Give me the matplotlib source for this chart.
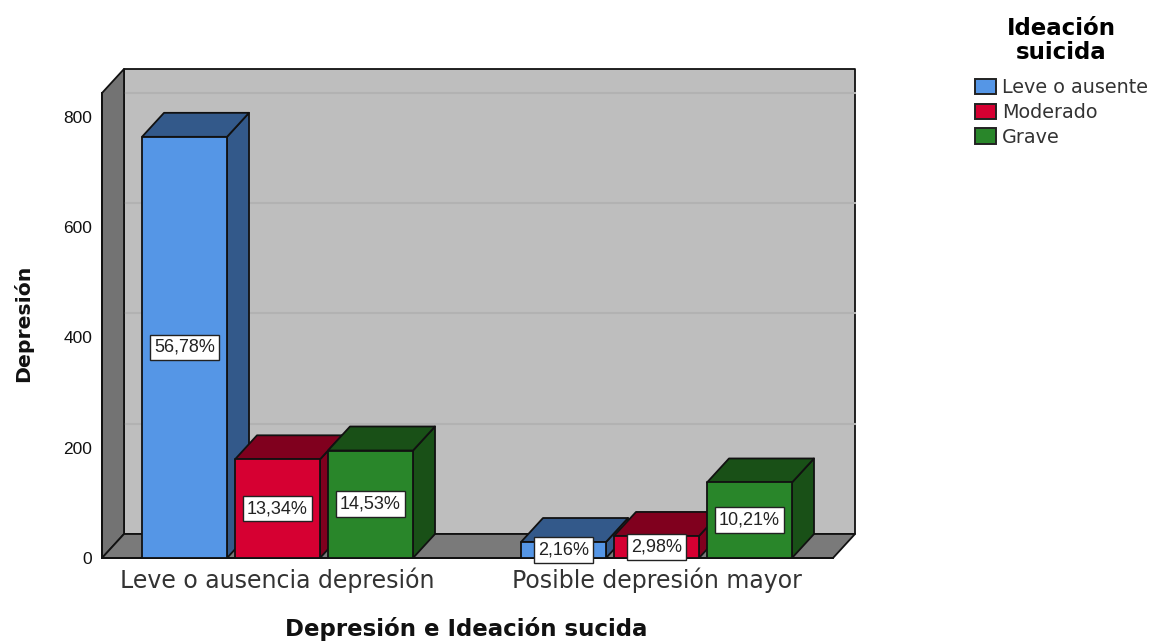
import matplotlib
matplotlib.use('Agg')
import matplotlib.pyplot as plt
from matplotlib.patches import Patch, Polygon

plt.rcParams['font.family'] = ['Liberation Sans', 'DejaVu Sans']

# Datos
categorias = ['Leve o ausencia depresión', 'Posible depresión mayor']
series = ['Leve o ausente', 'Moderado', 'Grave']
leve = [764, 29]
moderado = [179, 40]
grave = [195, 137]
pct_leve = ['56,78%', '2,16%']
pct_moderado = ['13,34%', '2,98%']
pct_grave = ['14,53%', '10,21%']
yticks = [0, 200, 400, 600, 800]

color_frente = ['#5596E6', '#D60032', '#29862A']
color_lado = ['#33598A', '#80001E', '#195017']

W, H = 1152, 641
fig = plt.figure(figsize=(W / 100, H / 100), dpi=100)
ax = fig.add_axes([102 / W, 1 - 558 / H, 731 / W, 465 / H])

# Escalas: 379 px entre categorias, 0.55125 px por unidad en y
x0, x1 = -0.4631, 1.4657
y1 = 843.5
ax.set_xlim(x0, x1)
ax.set_ylim(0, y1)
dx = 22 / 379
dy = 24 / 0.55125
ancho = 85 / 379
paso = 93 / 379


def poli(pts, fc, z):
    ax.add_patch(Polygon(pts, closed=True, fc=fc, ec='#111111', lw=1.3, zorder=z, clip_on=False,
                         joinstyle='round'))


# Paredes del grafico
poli([(x0 + dx, dy), (x1 + dx, dy), (x1 + dx, y1 + dy), (x0 + dx, y1 + dy)], '#BEBEBE', 1)
poli([(x0, 0), (x0 + dx, dy), (x0 + dx, y1 + dy), (x0, y1)], '#737373', 1.1)
poli([(x0, 0), (x0 + dx, dy), (x1 + dx, dy), (x1, 0)], '#7A7A7A', 1.1)
for t in yticks[1:]:
    ax.plot([x0 + dx, x1 + dx], [t + dy, t + dy], color='#B2B2B2', lw=1.5, zorder=1.05, clip_on=False)

# Barras
z = 3
valores = [leve, moderado, grave]
porcentajes = [pct_leve, pct_moderado, pct_grave]
for c in range(len(categorias)):
    for s in range(len(series)):
        v = valores[s][c]
        izq = c + (s - 1) * paso - ancho / 2
        der = izq + ancho
        poli([(der, 0), (der + dx, dy), (der + dx, v + dy), (der, v)], color_lado[s], z)
        poli([(izq, v), (der, v), (der + dx, v + dy), (izq + dx, v + dy)], color_lado[s], z)
        poli([(izq, 0), (der, 0), (der, v), (izq, v)], color_frente[s], z + 0.1)
        ax.text(izq + ancho / 2, v / 2, porcentajes[s][c], ha='center', va='center', fontsize=13,
                color='#222222', zorder=20,
                bbox=dict(boxstyle='square,pad=0.24', fc='white', ec='#222222', lw=1))
        z += 1

# Ejes
for lado in ['top', 'right']:
    ax.spines[lado].set_visible(False)
for lado in ['left', 'bottom']:
    ax.spines[lado].set_linewidth(1.4)
    ax.spines[lado].set_color('#111111')
ax.set_yticks(yticks)
ax.set_xticks(range(len(categorias)))
ax.set_xticklabels(categorias, fontsize=17, color='#333333', family='DejaVu Sans')
ax.tick_params(axis='x', length=0, pad=7)
ax.tick_params(axis='y', length=0, pad=7, labelsize=12.5, labelcolor='#111111')

fig.text(466 / W, 1 - 629 / H, 'Depresión e Ideación sucida', ha='center', va='center',
         fontsize=16.5, fontweight='bold', color='#111111', family='DejaVu Sans')
fig.text(23 / W, 1 - 323 / H, 'Depresión', ha='center', va='center', rotation=90,
         fontsize=14.7, fontweight='bold', color='#111111', family='DejaVu Sans')

# Leyenda
handles = [Patch(fc=color_frente[i], ec='#222222', lw=1.4, label=series[i]) for i in range(3)]
leg = fig.legend(handles=handles, title='Ideación\nsuicida', loc='upper left',
                 bbox_to_anchor=(975 / W, 1 - 17 / H), frameon=False,
                 handlelength=1.1, handleheight=0.87, handletextpad=0.3, labelspacing=0.3,
                 borderaxespad=0, borderpad=0, labelcolor='#333333', alignment='center',
                 prop={'family': 'DejaVu Sans', 'size': 13.8},
                 title_fontproperties={'family': 'DejaVu Sans', 'weight': 'bold', 'size': 16.5})
leg.get_title().set_multialignment('center')
leg.get_title().set_linespacing(1.08)
leg._legend_box.sep = 10

fig.savefig('out.png', dpi=100)
